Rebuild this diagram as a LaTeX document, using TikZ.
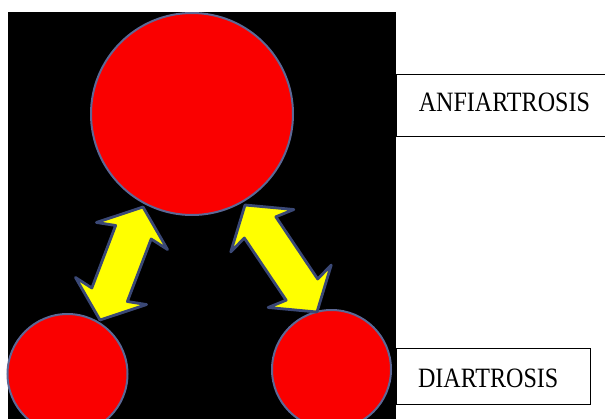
\documentclass[tikz,border=0pt]{standalone}
\usepackage{fontspec}
\newfontfamily\labelserif[FakeStretch=0.86]{Liberation Serif}
\usetikzlibrary{calc}
\definecolor{ballred}{RGB}{250,0,0}
\definecolor{balledge}{RGB}{92,104,150}
\definecolor{arrowyellow}{RGB}{255,255,0}
\definecolor{arrowedge}{RGB}{58,72,118}
\tikzset{
  ball/.style={circle, fill=ballred, draw=balledge, line width=2pt, inner sep=0pt},
  labelbox/.style={rectangle, draw=black, line width=1.4pt, inner sep=0pt, fill=white},
  labeltext/.style={inner sep=0pt, font=\labelserif\fontsize{28}{32}\selectfont},
  joint/.style={fill=arrowyellow, draw=arrowedge, line width=2.8pt, line join=round}
}
\newcommand{\jointarrow}[2]{%
  \filldraw[joint] let \p1=(#1), \p2=(#2),
    \n1={atan2(\y2-\y1,\x2-\x1)}, \n2={veclen(\x2-\x1,\y2-\y1)} in
    [shift={(\p1)}, rotate=\n1]
    (0,0) -- (31,38) -- (27,19) -- ({\n2-27},19) -- ({\n2-31},38) -- (\n2,0)
    -- ({\n2-31},-38) -- ({\n2-27},-19) -- (27,-19) -- (31,-38) -- cycle;}
\begin{document}
\begin{tikzpicture}[x=1pt,y=-1pt]
\useasboundingbox (0,0) rectangle (605,418);
\clip (0,0) rectangle (605,418);
\fill[white] (0,0) rectangle (605,418);
\fill[black] (7.5,12.3) rectangle (395.5,420);
% circles
\node[ball, minimum size=202pt] (top) at (192,114) {};
\node[ball, minimum size=120pt] (bl) at (67.5,374) {};
\node[ball, minimum size=119pt] (br) at (331.5,369.5) {};
% double arrows between the circles
\coordinate (la1) at (100,320);
\coordinate (la2) at (143,207);
\coordinate (ra1) at (245,205);
\coordinate (ra2) at (317,312);
\jointarrow{la1}{la2}
\jointarrow{ra1}{ra2}
% label boxes
\node[labelbox, anchor=north west, minimum width=216pt, minimum height=62.5pt] (anfbox) at (396,73.5) {};
\node[labeltext, anchor=base west] (anftext) at (418.6,111.7) {ANFIARTROSIS};
\node[labelbox, anchor=north west, minimum width=194pt, minimum height=56pt] (diabox) at (396,348) {};
\node[labeltext, anchor=base west] (diatext) at (417.8,387.3) {DIARTROSIS};
\end{tikzpicture}
\end{document}
